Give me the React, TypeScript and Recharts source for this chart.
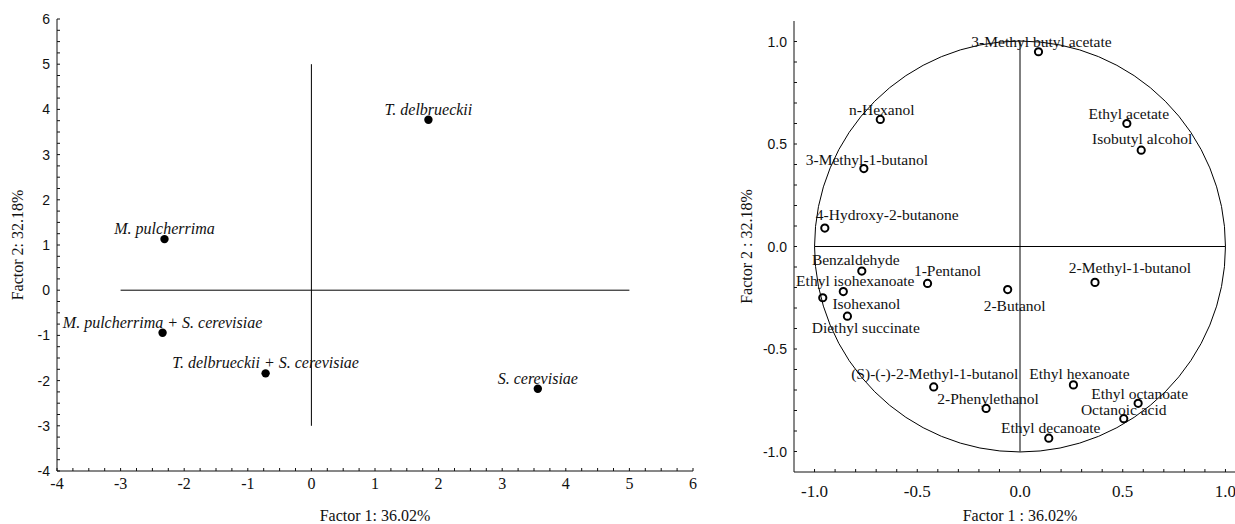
import { ScatterChart, Scatter, XAxis, YAxis, ReferenceLine, ReferenceDot } from "recharts";

// left panel: samples on factor plane
const sampleNames = [
  "T. delbrueckii",
  "M. pulcherrima",
  "M. pulcherrima + S. cerevisiae",
  "T. delbrueckii + S. cerevisiae",
  "S. cerevisiae",
];
const sampleF1 = [1.84, -2.31, -2.34, -0.72, 3.56];
const sampleF2 = [3.77, 1.13, -0.94, -1.84, -2.18];

// right panel: variable loadings
const compoundNames = [
  "3-Methyl butyl acetate",
  "Ethyl acetate",
  "Isobutyl alcohol",
  "n-Hexanol",
  "3-Methyl-1-butanol",
  "4-Hydroxy-2-butanone",
  "Benzaldehyde",
  "1-Pentanol",
  "Ethyl isohexanoate",
  "Isohexanol",
  "Diethyl succinate",
  "2-Methyl-1-butanol",
  "2-Butanol",
  "(S)-(-)-2-Methyl-1-butanol",
  "2-Phenylethanol",
  "Ethyl hexanoate",
  "Ethyl octanoate",
  "Octanoic acid",
  "Ethyl decanoate",
];
const compoundF1 = [0.09, 0.52, 0.59, -0.68, -0.76, -0.95, -0.77, -0.45, -0.86, -0.84, -0.96, 0.365, -0.06, -0.42, -0.165, 0.26, 0.575, 0.505, 0.14];
const compoundF2 = [0.95, 0.6, 0.47, 0.62, 0.38, 0.09, -0.12, -0.18, -0.22, -0.34, -0.25, -0.175, -0.21, -0.685, -0.79, -0.675, -0.765, -0.84, -0.935];

const leftMajor = [-4, -3, -2, -1, 0, 1, 2, 3, 4, 5, 6];
const rightMajor = [-1, -0.5, 0, 0.5, 1];

const steps = (from: number, to: number, step: number) => {
  const out: number[] = [];
  for (let i = 0; from + i * step <= to + 1e-9; i++) out.push(+(from + i * step).toFixed(4));
  return out;
};
const leftTicks = steps(-4, 6, 0.25);
const rightTicks = steps(-1, 1, 0.1);

const samples = sampleNames.map((name, i) => ({ name, f1: sampleF1[i], f2: sampleF2[i] }));
const compounds = compoundNames.map((name, i) => ({ name, f1: compoundF1[i], f2: compoundF2[i] }));

// where each loading label sits relative to its marker: [dx, dy, anchor]
const compoundLabelPos: Record<string, [number, number, string]> = {
  "3-Methyl butyl acetate": [3, -5, "middle"],
  "Ethyl acetate": [2, -5, "middle"],
  "Isobutyl alcohol": [1, -6, "middle"],
  "n-Hexanol": [1.5, -4, "middle"],
  "3-Methyl-1-butanol": [3, -4, "middle"],
  "4-Hydroxy-2-butanone": [-9, -8, "start"],
  "Benzaldehyde": [-6, -6, "middle"],
  "1-Pentanol": [20, -7, "middle"],
  "Ethyl isohexanoate": [12, -6, "middle"],
  "Isohexanol": [19, -7, "middle"],
  "Diethyl succinate": [43, 35, "middle"],
  "2-Methyl-1-butanol": [35, -9, "middle"],
  "2-Butanol": [7, 21, "middle"],
  "(S)-(-)-2-Methyl-1-butanol": [1, -8, "middle"],
  "2-Phenylethanol": [2, -4, "middle"],
  "Ethyl hexanoate": [6, -6, "middle"],
  "Ethyl octanoate": [1.5, -4, "middle"],
  "Octanoic acid": [0, -4, "middle"],
  "Ethyl decanoate": [2, -5, "middle"],
};

const SERIF = "'Liberation Serif', 'Times New Roman', serif";
const SANS = "'Liberation Sans', Arial, sans-serif";
const INK = "#111";
const TICK_LEN = 3;

const isMajor = (majors: number[], v: number) => majors.some((m) => Math.abs(m - v) < 1e-6);

// ticks point into the plot, labels only on majors
const makeTick = (
  side: "bottom" | "top" | "left" | "right",
  majors: number[],
  fmt: (v: number) => string,
  font: string,
  size: number,
  gap: number
) => (props: any) => {
  const { x, y, payload } = props;
  const v = payload.value;
  const major = isMajor(majors, v);
  let line;
  let label = null;
  if (side === "bottom") {
    line = <line x1={x} x2={x} y1={y} y2={y - TICK_LEN} stroke={INK} />;
    if (major)
      label = (
        <text x={x} y={y + gap} textAnchor="middle" fontFamily={font} fontSize={size} fill={INK}>
          {fmt(v)}
        </text>
      );
  } else if (side === "top") {
    line = <line x1={x} x2={x} y1={y} y2={y + TICK_LEN} stroke={INK} />;
  } else if (side === "left") {
    line = <line x1={x} x2={x + TICK_LEN} y1={y} y2={y} stroke={INK} />;
    if (major)
      label = (
        <text x={x - gap} y={y} dy="0.36em" textAnchor="end" fontFamily={font} fontSize={size} fill={INK}>
          {fmt(v)}
        </text>
      );
  } else {
    line = <line x1={x} x2={x - TICK_LEN} y1={y} y2={y} stroke={INK} />;
  }
  return (
    <g>
      {line}
      {label}
    </g>
  );
};

const xTitle = (text: string, dy: number) => (p: any) => {
  const vb = p.viewBox;
  return (
    <text x={vb.x + vb.width / 2} y={vb.y + dy} textAnchor="middle" fontFamily={SERIF} fontSize={16} fill={INK}>
      {text}
    </text>
  );
};

const yTitle = (text: string, dx: number) => (p: any) => {
  const vb = p.viewBox;
  const x = vb.x + dx;
  const y = vb.y + vb.height / 2;
  return (
    <text x={x} y={y} transform={`rotate(-90, ${x}, ${y})`} textAnchor="middle" fontFamily={SERIF} fontSize={16} fill={INK}>
      {text}
    </text>
  );
};

const sampleShape = (p: any) => (
  <g>
    <circle cx={p.cx} cy={p.cy} r={4.2} fill="#000" />
    <text x={p.cx} y={p.cy - 5} textAnchor="middle" fontFamily={SERIF} fontStyle="italic" fontSize={16} fill={INK}>
      {p.payload.name}
    </text>
  </g>
);

const compoundShape = (p: any) => {
  const [dx, dy, anchor] = compoundLabelPos[p.payload.name] ?? [0, -6, "middle"];
  return (
    <g>
      <circle cx={p.cx} cy={p.cy} r={3.6} fill="none" stroke="#000" strokeWidth={2} />
      <text x={p.cx + dx} y={p.cy + dy} textAnchor={anchor as any} fontFamily={SERIF} fontSize={15.5} fill={INK}>
        {p.payload.name}
      </text>
    </g>
  );
};

const RIGHT_W = 560;
const RIGHT_Y_AXIS = 94;
const RIGHT_MARGIN_R = 14;
const RIGHT_PLOT_W = RIGHT_W - RIGHT_Y_AXIS - RIGHT_MARGIN_R;
const RIGHT_DOMAIN: [number, number] = [-1.1, 1.1];
const unitRadius = RIGHT_PLOT_W / (RIGHT_DOMAIN[1] - RIGHT_DOMAIN[0]);

function SamplePlot() {
  const dom: [number, number] = [-4, 6];
  const fmt = (v: number) => String(v);
  return (
    <ScatterChart width={700} height={524} margin={{ top: 19, right: 7, bottom: 0, left: 0 }}>
      <XAxis
        type="number" dataKey="f1" domain={dom} ticks={leftTicks} interval={0} height={53}
        tickSize={0} tickMargin={0} tickLine={false} axisLine={{ stroke: INK }} allowDataOverflow
        tick={makeTick("bottom", leftMajor, fmt, SERIF, 16, 18)}
        label={{ content: xTitle("Factor 1: 36.02%", 50) }}
      />
      <XAxis
        xAxisId="top" orientation="top" type="number" domain={dom} ticks={leftTicks} interval={0} height={0}
        tickSize={0} tickMargin={0} tickLine={false} axisLine={{ stroke: INK }} allowDataOverflow
        tick={makeTick("top", leftMajor, fmt, SERIF, 16, 0)}
      />
      <YAxis
        type="number" dataKey="f2" domain={dom} ticks={leftTicks} interval={0} width={57}
        tickSize={0} tickMargin={0} tickLine={false} axisLine={{ stroke: INK }} allowDataOverflow
        tick={makeTick("left", leftMajor, fmt, SANS, 14, 7)}
        label={{ content: yTitle("Factor 2: 32.18%", 23) }}
      />
      <YAxis
        yAxisId="right" orientation="right" type="number" domain={dom} ticks={leftTicks} interval={0} width={0}
        tickSize={0} tickMargin={0} tickLine={false} axisLine={{ stroke: INK }} allowDataOverflow
        tick={makeTick("right", leftMajor, fmt, SANS, 14, 0)}
      />
      <ReferenceLine segment={[{ x: -3, y: 0 }, { x: 5, y: 0 }]} stroke="#000" />
      <ReferenceLine segment={[{ x: 0, y: -3 }, { x: 0, y: 5 }]} stroke="#000" />
      <Scatter data={samples} isAnimationActive={false} shape={sampleShape} />
    </ScatterChart>
  );
}

function LoadingPlot() {
  const fmt = (v: number) => v.toFixed(1);
  return (
    <ScatterChart width={RIGHT_W} height={524} margin={{ top: 21, right: RIGHT_MARGIN_R, bottom: 0, left: 0 }}>
      <XAxis
        type="number" dataKey="f1" domain={RIGHT_DOMAIN} ticks={rightTicks} interval={0} height={52}
        tickSize={0} tickMargin={0} tickLine={false} axisLine={{ stroke: INK }} allowDataOverflow
        tick={makeTick("bottom", rightMajor, fmt, SERIF, 17, 25)}
        label={{ content: xTitle("Factor 1 : 36.02%", 49) }}
      />
      <XAxis
        xAxisId="top" orientation="top" type="number" domain={RIGHT_DOMAIN} ticks={rightTicks} interval={0} height={0}
        tickSize={0} tickMargin={0} tickLine={false} axisLine={{ stroke: INK }} allowDataOverflow
        tick={makeTick("top", rightMajor, fmt, SERIF, 17, 0)}
      />
      <YAxis
        type="number" dataKey="f2" domain={RIGHT_DOMAIN} ticks={rightTicks} interval={0} width={RIGHT_Y_AXIS}
        tickSize={0} tickMargin={0} tickLine={false} axisLine={{ stroke: INK }} allowDataOverflow
        tick={makeTick("left", rightMajor, fmt, SANS, 14, 7)}
        label={{ content: yTitle("Factor 2 : 32.18%", 52) }}
      />
      <YAxis
        yAxisId="right" orientation="right" type="number" domain={RIGHT_DOMAIN} ticks={rightTicks} interval={0} width={0}
        tickSize={0} tickMargin={0} tickLine={false} axisLine={{ stroke: INK }} allowDataOverflow
        tick={makeTick("right", rightMajor, fmt, SANS, 14, 0)}
      />
      <ReferenceDot x={0} y={0} r={unitRadius} fill="none" stroke="#000" strokeWidth={1} />
      <ReferenceLine segment={[{ x: -1, y: 0 }, { x: 1, y: 0 }]} stroke="#000" />
      <ReferenceLine segment={[{ x: 0, y: -1 }, { x: 0, y: 1 }]} stroke="#000" />
      <Scatter data={compounds} isAnimationActive={false} shape={compoundShape} />
    </ScatterChart>
  );
}

export default function App() {
  return (
    <div style={{ position: "absolute", left: 0, top: 0, width: 1235, height: 524, overflow: "hidden", background: "#fff" }}>
      <div style={{ position: "absolute", left: 0, top: 0 }}>
        <SamplePlot />
      </div>
      <div style={{ position: "absolute", left: 700, top: 0 }}>
        <LoadingPlot />
      </div>
    </div>
  );
}
